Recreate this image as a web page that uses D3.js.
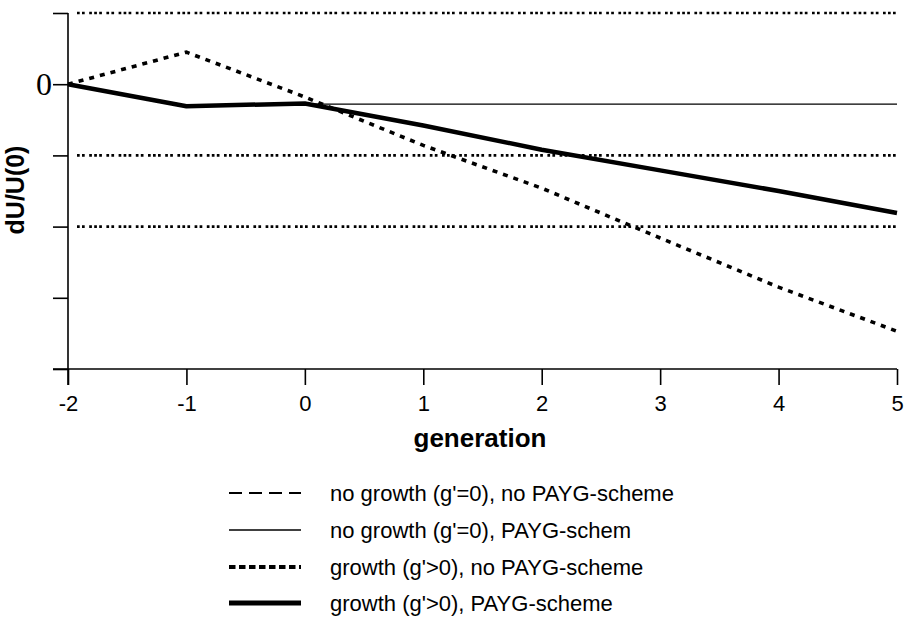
<!DOCTYPE html>
<html>
<head>
<meta charset="utf-8">
<script src="https://cdn.jsdelivr.net/npm/d3@7"></script>
<style>
  body { margin: 0; background: #fff; }
  svg { display: block; }
</style>
</head>
<body>
<div id="chart"></div>
<script>
// generations on the x axis
var generations = [-2, -1, 0, 1, 2, 3, 4, 5];
var yTicks = [1, 0, -1, -2, -3, -4];
var gridValues = [1, -1, -2];

// dU/U(0) per generation
var growthNoPayg = [0, 0.45, -0.18, -0.86, -1.46, -2.16, -2.85, -3.47];
var growthPayg = [0, -0.31, -0.27, -0.58, -0.92, -1.21, -1.50, -1.81];
var noGrowthPayg = [0, -0.31, -0.28, -0.28, -0.28, -0.28, -0.28, -0.28];

var legendLabels = [
  "no growth (g'=0), no PAYG-scheme",
  "no growth (g'=0), PAYG-schem",
  "growth (g'>0), no PAYG-scheme",
  "growth (g'>0), PAYG-scheme"
];

var svgWidth = 906;
var svgHeight = 619;
var plotLeft = 68;
var plotRight = 897;
var plotTop = 13;
var plotBottom = 369;

var svg = d3.select("#chart")
  .append("svg")
  .attr("width", svgWidth)
  .attr("height", svgHeight);

var xScale = d3.scaleLinear().domain([-2, 5]).range([plotLeft, plotRight]);
var yScale = d3.scaleLinear().domain([-4, 1]).range([plotBottom, plotTop]);

// dotted grid lines
svg.append("g").selectAll("line")
  .data(gridValues)
  .enter()
  .append("line")
  .attr("x1", plotLeft + 9)
  .attr("x2", plotRight)
  .attr("y1", d => yScale(d))
  .attr("y2", d => yScale(d))
  .attr("stroke", "black")
  .attr("stroke-width", 2.6)
  .attr("stroke-dasharray", "2.7,2.3,2.7,4.5,2.7,2.3,2.7,2.3,2.7,4.5");

// axes
var xAxis = d3.axisBottom(xScale)
  .tickValues(generations)
  .tickSize(16)
  .tickPadding(10)
  .tickFormat(d => d);
var yAxis = d3.axisLeft(yScale)
  .tickValues(yTicks)
  .tickSize(15)
  .tickFormat("");

var xAxisGroup = svg.append("g")
  .attr("transform", `translate(0,${plotBottom})`)
  .call(xAxis);
xAxisGroup.select(".domain")
  .attr("d", `M${plotLeft - 15},0H${plotRight}`);
xAxisGroup.selectAll("text")
  .attr("font-family", "Arial, 'Liberation Sans', sans-serif")
  .attr("font-size", "22px")
  .attr("fill", "black");

var yAxisGroup = svg.append("g")
  .attr("transform", `translate(${plotLeft},0)`)
  .call(yAxis);
yAxisGroup.select(".domain")
  .attr("d", `M0,${plotTop}V${plotBottom + 16}`);

svg.selectAll(".domain, .tick line")
  .attr("stroke", "black")
  .attr("stroke-width", 1.6);

// "0" label on the y axis
yAxisGroup.append("text")
  .attr("x", -16)
  .attr("y", yScale(0))
  .attr("dy", "0.35em")
  .attr("text-anchor", "end")
  .attr("font-family", "'Liberation Serif', 'Times New Roman', serif")
  .attr("font-size", "32px")
  .attr("fill", "black")
  .text("0");

svg.append("text")
  .attr("x", 480)
  .attr("y", 447)
  .attr("text-anchor", "middle")
  .attr("font-family", "Arial, 'Liberation Sans', sans-serif")
  .attr("font-weight", "bold")
  .attr("font-size", "26px")
  .attr("fill", "black")
  .text("generation");

svg.append("text")
  .attr("transform", "translate(24,190) rotate(-90)")
  .attr("text-anchor", "middle")
  .attr("font-family", "Arial, 'Liberation Sans', sans-serif")
  .attr("font-weight", "bold")
  .attr("font-size", "25px")
  .attr("fill", "black")
  .text("dU/U(0)");

// series
var line = d3.line()
  .x((d, i) => xScale(generations[i]))
  .y(d => yScale(d));

svg.append("path")
  .datum(noGrowthPayg)
  .attr("d", line)
  .attr("fill", "none")
  .attr("stroke", "black")
  .attr("stroke-width", 1.4);

svg.append("path")
  .datum(growthNoPayg)
  .attr("d", line)
  .attr("fill", "none")
  .attr("stroke", "black")
  .attr("stroke-width", 3.6)
  .attr("stroke-dasharray", "5,6");

svg.append("path")
  .datum(growthPayg)
  .attr("d", line)
  .attr("fill", "none")
  .attr("stroke", "black")
  .attr("stroke-width", 4.5)
  .attr("stroke-linejoin", "round");

// legend
var legendStyles = [
  { width: 2.2, dash: "13,7" },
  { width: 1.4, dash: null },
  { width: 4.2, dash: "6.5,3.5" },
  { width: 5, dash: null }
];
var legendY = [493, 530, 567, 603];

var legend = svg.append("g").selectAll("g")
  .data(legendLabels)
  .enter()
  .append("g")
  .attr("transform", (d, i) => `translate(0,${legendY[i]})`);

legend.append("line")
  .attr("x1", 229)
  .attr("x2", 301)
  .attr("stroke", "black")
  .attr("stroke-width", (d, i) => legendStyles[i].width)
  .attr("stroke-dasharray", (d, i) => legendStyles[i].dash);

legend.append("text")
  .attr("x", 330)
  .attr("dy", "0.35em")
  .attr("font-family", "Arial, 'Liberation Sans', sans-serif")
  .attr("font-size", "22px")
  .attr("fill", "black")
  .text(d => d);
</script>
</body>
</html>
